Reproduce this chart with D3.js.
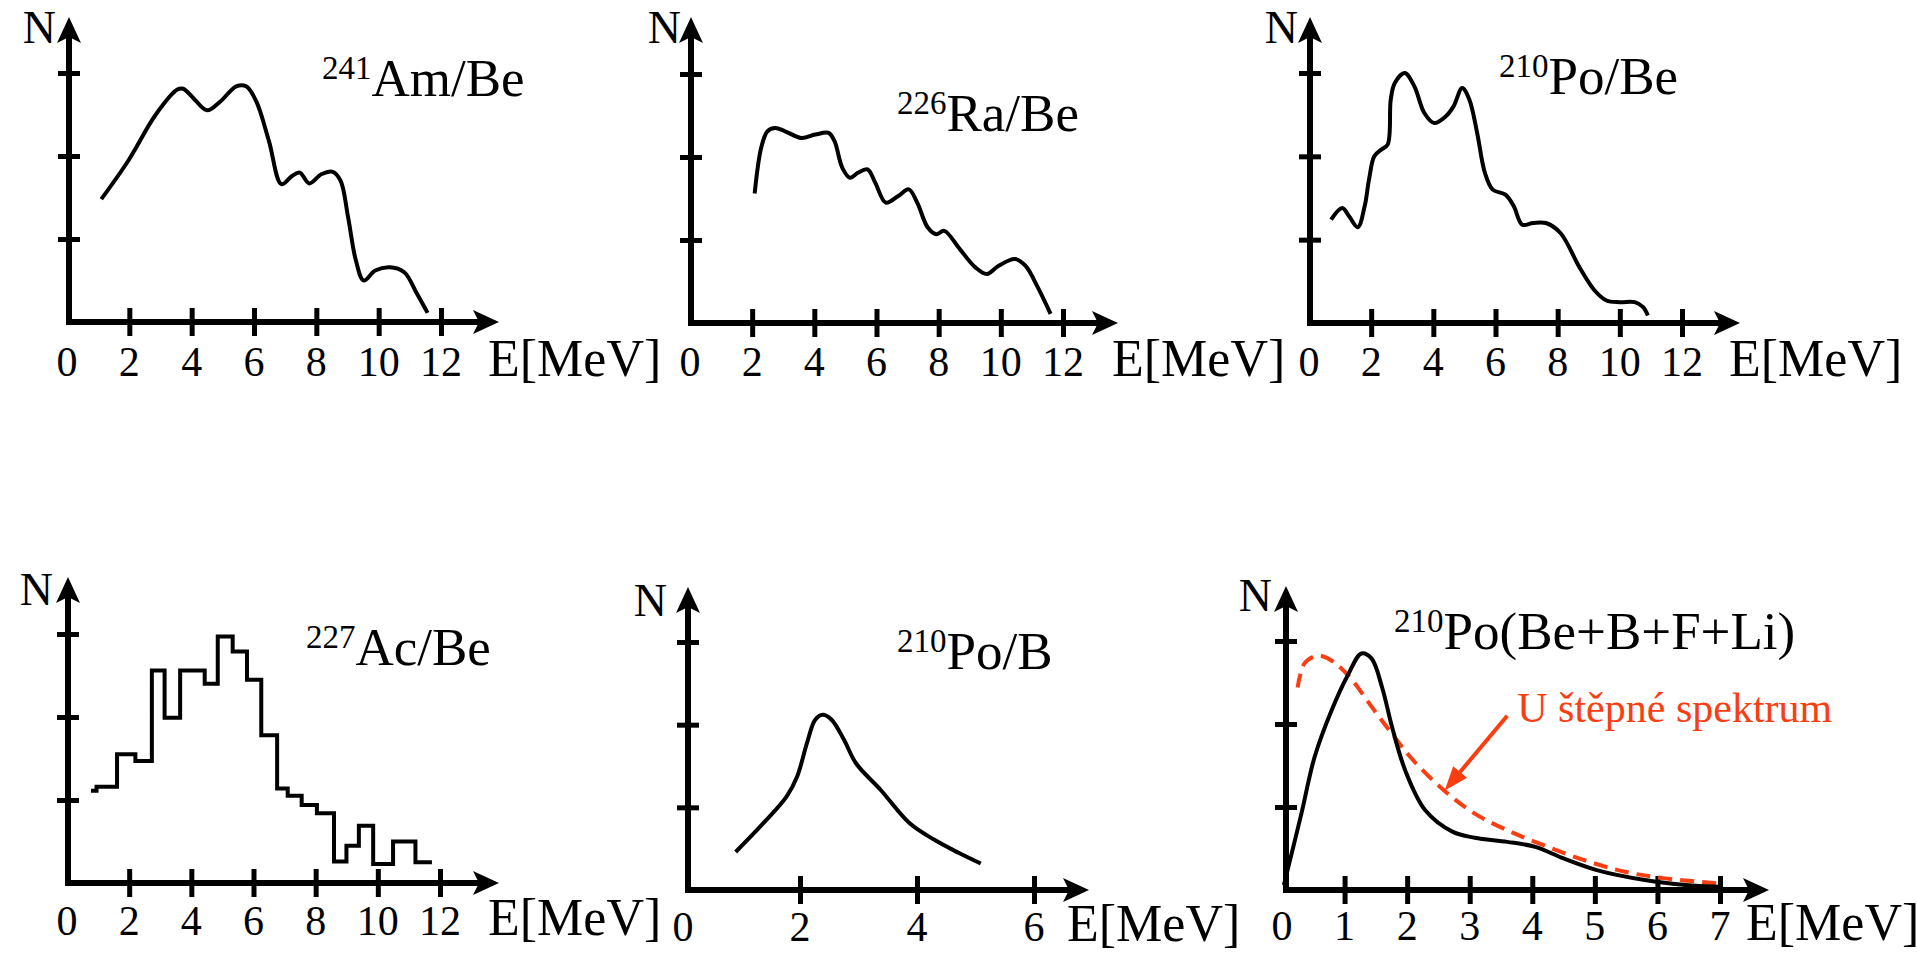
<!DOCTYPE html>
<html>
<head>
<meta charset="utf-8">
<script src="https://cdn.jsdelivr.net/npm/d3@7"></script>
<style>
  body { margin: 0; background: #fff; }
  svg text { font-family: "Liberation Serif", "Times New Roman", serif; fill: #000; }
</style>
</head>
<body>
<svg width="1917" height="955"></svg>
<script>
// --- data (N in tick units) ---
var amBeE = [1.1, 1.96, 2.85, 3.54, 3.73, 4.05, 4.49, 4.93, 5.43, 5.75, 6.07, 6.48, 6.88, 7.22, 7.47, 7.77, 8.16, 8.53, 8.78, 9.02, 9.27, 9.52, 9.89, 10.35, 10.82, 11.23, 11.57];
var amBeN = [1.48, 1.94, 2.5, 2.8, 2.81, 2.7, 2.55, 2.66, 2.84, 2.84, 2.66, 2.18, 1.66, 1.76, 1.8, 1.67, 1.78, 1.81, 1.7, 1.26, 0.74, 0.5, 0.62, 0.66, 0.6, 0.34, 0.11];

var raBeE = [2.08, 2.29, 2.49, 2.74, 3.06, 3.58, 4.03, 4.46, 4.65, 4.9, 5.15, 5.4, 5.71, 5.96, 6.3, 6.7, 7.04, 7.31, 7.65, 7.92, 8.18, 8.68, 9.18, 9.55, 9.93, 10.46, 10.79, 11.19, 11.6];
var raBeN = [1.56, 2.11, 2.31, 2.35, 2.31, 2.23, 2.27, 2.29, 2.19, 1.87, 1.75, 1.81, 1.85, 1.69, 1.45, 1.53, 1.61, 1.45, 1.15, 1.07, 1.11, 0.89, 0.67, 0.59, 0.69, 0.77, 0.69, 0.43, 0.11];

var poBeE = [0.71, 1.07, 1.29, 1.57, 1.79, 1.93, 2.1, 2.32, 2.53, 2.63, 2.76, 3.08, 3.39, 3.71, 4.03, 4.4, 4.65, 4.93, 5.16, 5.41, 5.66, 5.91, 6.32, 6.59, 6.86, 7.21, 7.62, 8.09, 8.7, 9.19, 9.57, 10.0, 10.48, 10.75, 10.9];
var poBeN = [1.24, 1.38, 1.28, 1.15, 1.40, 1.72, 2.0, 2.08, 2.14, 2.68, 2.88, 3.0, 2.84, 2.52, 2.40, 2.48, 2.6, 2.82, 2.68, 2.28, 1.8, 1.6, 1.54, 1.4, 1.18, 1.2, 1.2, 1.08, 0.67, 0.39, 0.27, 0.25, 0.25, 0.19, 0.09];

// histogram: bin edges and level of each bin
var acBeEdges = [0.77, 0.95, 1.61, 2.2, 2.73, 3.14, 3.64, 4.43, 4.85, 5.33, 5.79, 6.25, 6.76, 7.10, 7.55, 8.04, 8.59, 8.99, 9.39, 9.85, 10.49, 11.21, 11.74];
var acBeN = [1.11, 1.16, 1.55, 1.47, 2.56, 1.99, 2.56, 2.40, 2.97, 2.79, 2.45, 1.78, 1.14, 1.05, 0.94, 0.84, 0.26, 0.45, 0.69, 0.23, 0.5, 0.25];

var poBE = [0.9, 1.35, 1.77, 1.95, 2.12, 2.26, 2.39, 2.54, 2.75, 2.96, 3.38, 3.87, 4.29, 4.71, 5.09];
var poBN = [0.46, 0.79, 1.13, 1.37, 1.78, 2.06, 2.12, 2.06, 1.82, 1.53, 1.21, 0.81, 0.61, 0.45, 0.32];

var poMixE = [0.03, 0.31, 0.52, 0.79, 1.06, 1.27, 1.43, 1.6, 1.76, 1.97, 2.29, 2.73, 3.08, 3.6, 4.05, 4.5, 5.03, 5.8, 6.45, 6.97];
var poMixN = [0.06, 0.92, 1.6, 2.16, 2.6, 2.85, 2.79, 2.44, 1.96, 1.44, 0.96, 0.7, 0.63, 0.58, 0.52, 0.38, 0.24, 0.12, 0.06, 0.04];

var fissionE = [0.25, 0.35, 0.5, 0.63, 0.84, 1.11, 1.44, 1.76, 2.1, 2.62, 3.08, 3.6, 4.18, 4.83, 5.48, 6.13, 6.97];
var fissionN = [2.44, 2.72, 2.81, 2.82, 2.74, 2.54, 2.2, 1.88, 1.56, 1.18, 0.92, 0.72, 0.54, 0.36, 0.22, 0.14, 0.08];

var ticks12 = [0, 2, 4, 6, 8, 10, 12];
var ticks6 = [0, 2, 4, 6];
var ticks7 = [0, 1, 2, 3, 4, 5, 6, 7];
var yTicks = [1, 2, 3];

var isotopes = ["241", "226", "210", "227", "210", "210"];
var sources = ["Am/Be", "Ra/Be", "Po/Be", "Ac/Be", "Po/B", "Po(Be+B+F+Li)"];

var noteText = "U \u0161t\u011bpn\u00e9 spektrum";
var noteE = [3.6, 2.6], noteN = [2.1, 1.2];   // arrow from -> to, in data units

// --- layout ---
var panels = [
  {left: 67,   right: 441,  xMax: 12, ticks: ticks12, bottom: 322, top: 73,  axisX: 69,   arrowX: 499,  arrowY: 17,  labelY: 376, nX: 56,   nY: 43,  eX: 488,  tx: 322,  ty: 96},
  {left: 690,  right: 1063, xMax: 12, ticks: ticks12, bottom: 323, top: 74,  axisX: 691,  arrowX: 1118, arrowY: 17,  labelY: 376, nX: 681,  nY: 43,  eX: 1112, tx: 897,  ty: 131},
  {left: 1309, right: 1682, xMax: 12, ticks: ticks12, bottom: 323, top: 73,  axisX: 1310, arrowX: 1740, arrowY: 17,  labelY: 376, nX: 1298, nY: 43,  eX: 1729, tx: 1499, ty: 94},
  {left: 67,   right: 440,  xMax: 12, ticks: ticks12, bottom: 883, top: 634, axisX: 68,   arrowX: 499,  arrowY: 577, labelY: 935, nX: 53,   nY: 605, eX: 488,  tx: 306,  ty: 665},
  {left: 683,  right: 1034, xMax: 6,  ticks: ticks6,  bottom: 890, top: 642, axisX: 688,  arrowX: 1089, arrowY: 587, labelY: 941, nX: 667,  nY: 616, eX: 1067, tx: 897,  ty: 669},
  {left: 1282, right: 1720, xMax: 7,  ticks: ticks7,  bottom: 890, top: 641, axisX: 1286, arrowX: 1769, arrowY: 586, labelY: 940, nX: 1272, nY: 611, eX: 1746, tx: 1394, ty: 649}
];

var red = "#fb3d12";
var svg = d3.select("svg");

function zip(a, b) { return a.map(function(d, i) { return [d, b[i]]; }); }

function drawPanel(p, i) {
  var x = d3.scaleLinear().domain([0, p.xMax]).range([p.left, p.right]);
  var y = d3.scaleLinear().domain([0, 3]).range([p.bottom, p.top]);
  var g = svg.append("g");

  // axis lines with arrow heads
  g.append("path")
      .attr("d", "M" + p.axisX + "," + (p.arrowY + 14) + "L" + p.axisX + "," + p.bottom + "L" + (p.arrowX - 14) + "," + p.bottom)
      .attr("fill", "none").attr("stroke", "#000").attr("stroke-width", 6)
      .attr("stroke-linejoin", "miter");
  g.append("path")
      .attr("d", "M" + p.arrowX + "," + p.bottom + "l-26,-12l6,12l-6,12z");
  g.append("path")
      .attr("d", "M" + p.axisX + "," + p.arrowY + "l-12,26l12,-6l12,6z");

  // tick marks via d3 axes, made to cross the axis line
  var gx = g.append("g")
      .attr("transform", "translate(0," + p.bottom + ")")
      .call(d3.axisBottom(x).tickValues(p.ticks.slice(1)).tickSize(0).tickFormat(""));
  gx.select(".domain").remove();
  gx.selectAll(".tick line").attr("y1", -14).attr("y2", 14).attr("stroke", "#000").attr("stroke-width", 5);

  var gy = g.append("g")
      .attr("transform", "translate(" + p.axisX + ",0)")
      .call(d3.axisLeft(y).tickValues(yTicks).tickSize(0).tickFormat(""));
  gy.select(".domain").remove();
  gy.selectAll(".tick line").attr("x1", -11).attr("x2", 11).attr("stroke", "#000").attr("stroke-width", 5);

  // tick labels
  g.selectAll(".tl")
      .data(p.ticks)
    .enter().append("text")
      .attr("class", "tl")
      .attr("x", function(d) { return x(d); })
      .attr("y", p.labelY)
      .attr("text-anchor", "middle")
      .style("font-size", "42px")
      .text(function(d) { return d; });

  g.append("text").attr("x", p.eX).attr("y", p.labelY)
      .style("font-size", "52px").text("E[MeV]");
  g.append("text").attr("x", p.nX).attr("y", p.nY)
      .attr("text-anchor", "end")
      .style("font-size", "46px").text("N");

  var t = g.append("text").attr("x", p.tx).attr("y", p.ty);
  t.append("tspan").attr("dy", -17).style("font-size", "33px").text(isotopes[i]);
  t.append("tspan").attr("dy", 17).style("font-size", "53px").text(sources[i]);

  return {g: g, x: x, y: y};
}

var P = panels.map(drawPanel);

function smooth(pan, es, ns, color, dash) {
  var line = d3.line()
      .x(function(d) { return pan.x(d[0]); })
      .y(function(d) { return pan.y(d[1]); })
      .curve(d3.curveCatmullRom.alpha(0.5));
  var path = pan.g.append("path")
      .datum(zip(es, ns))
      .attr("fill", "none")
      .attr("stroke", color)
      .attr("stroke-width", 4)
      .attr("d", line);
  if (dash) path.attr("stroke-dasharray", dash);
  return path;
}

smooth(P[0], amBeE, amBeN, "#000");
smooth(P[1], raBeE, raBeN, "#000");
smooth(P[2], poBeE, poBeN, "#000");

// histogram
var histPts = zip(acBeEdges.slice(0, -1), acBeN);
histPts.push([acBeEdges[acBeEdges.length - 1], acBeN[acBeN.length - 1]]);
P[3].g.append("path")
    .datum(histPts)
    .attr("fill", "none")
    .attr("stroke", "#000")
    .attr("stroke-width", 4)
    .attr("d", d3.line()
        .x(function(d) { return P[3].x(d[0]); })
        .y(function(d) { return P[3].y(d[1]); })
        .curve(d3.curveStepAfter));

smooth(P[4], poBE, poBN, "#000");
smooth(P[5], fissionE, fissionN, red, "14,8");
smooth(P[5], poMixE, poMixN, "#000");

// annotation arrow for the fission spectrum
var p6 = P[5];
var x1 = p6.x(noteE[0]), y1 = p6.y(noteN[0]), x2 = p6.x(noteE[1]), y2 = p6.y(noteN[1]);
var ang = Math.atan2(y2 - y1, x2 - x1);
var hl = 24, hw = 9;
p6.g.append("line")
    .attr("x1", x1).attr("y1", y1)
    .attr("x2", x2 - Math.cos(ang) * (hl - 4)).attr("y2", y2 - Math.sin(ang) * (hl - 4))
    .attr("stroke", red).attr("stroke-width", 4);
p6.g.append("path")
    .attr("fill", red)
    .attr("d", "M" + x2 + "," + y2 +
      "L" + (x2 - hl * Math.cos(ang) + hw * Math.sin(ang)) + "," + (y2 - hl * Math.sin(ang) - hw * Math.cos(ang)) +
      "L" + (x2 - hl * Math.cos(ang) - hw * Math.sin(ang)) + "," + (y2 - hl * Math.sin(ang) + hw * Math.cos(ang)) + "Z");
p6.g.append("text")
    .attr("x", p6.x(3.76))
    .attr("y", p6.y(2.02))
    .style("font-size", "42px")
    .style("fill", red)
    .text(noteText);
</script>
</body>
</html>
